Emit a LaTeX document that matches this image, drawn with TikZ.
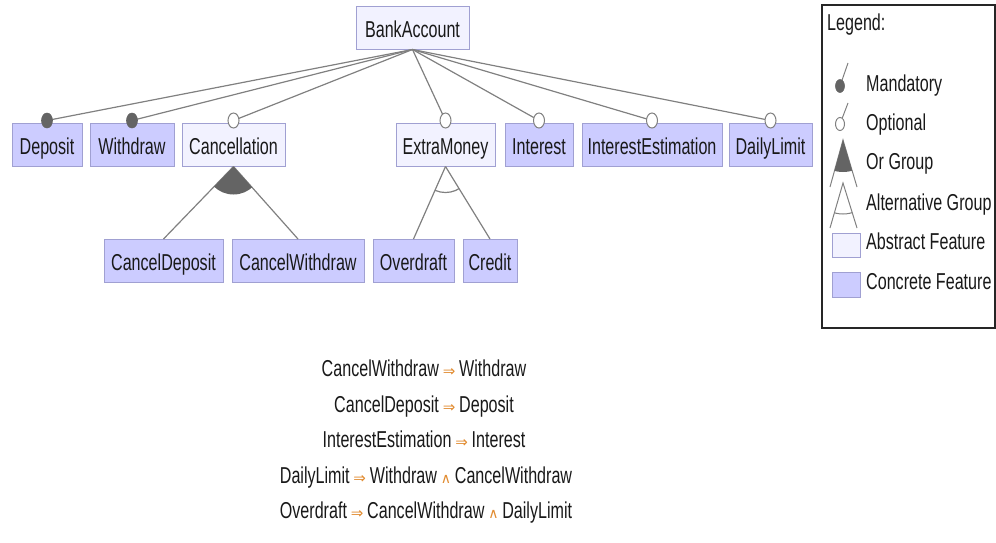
\documentclass[tikz,border=0pt]{standalone}
\usepackage{fontspec}
\setmainfont{Liberation Sans}[FakeStretch=0.7]
\newfontfamily\symfont{DejaVu Sans}
\usetikzlibrary{calc}

\definecolor{concretefill}{RGB}{204,204,255}
\definecolor{abstractfill}{RGB}{242,242,255}
\definecolor{featborder}{RGB}{160,160,210}
\definecolor{edgegray}{RGB}{128,128,128}
\definecolor{markgray}{RGB}{100,100,100}
\definecolor{opcolor}{RGB}{225,140,50}

\newcommand{\impl}{\,{\symfont\fontsize{15}{15}\selectfont\textcolor{opcolor}{⇒}}\,}
\newcommand{\conj}{\,{\symfont\fontsize{14}{14}\selectfont\textcolor{opcolor}{∧}}\,}

\begin{document}
\begin{tikzpicture}[x=1pt,y=-1pt,
  font=\fontsize{23}{27}\selectfont,
  feat/.style={draw=featborder,line width=1pt,minimum height=43pt,inner sep=0pt,
    text height=20pt,text depth=0.5pt,text=black!90},
  concrete/.style={feat,fill=concretefill},
  abstract/.style={feat,fill=abstractfill},
  edge/.style={draw=edgegray,line width=1.2pt},
  mandmark/.style={fill=markgray,draw=markgray,line width=0.6pt},
  optmark/.style={fill=white,draw=edgegray,line width=1pt},
  constraint/.style={inner sep=0pt,text=black!90,text height=16pt,text depth=4.5pt},
  legtext/.style={anchor=west,inner sep=0pt,text=black!90,text height=16pt,text depth=4.5pt}
]
\useasboundingbox (0,0) rectangle (996,542);

% feature nodes
\node[abstract,minimum width=113pt] (root) at (412.5,27.5) {BankAccount};

\node[concrete,minimum width=70pt]  (dep)  at (47,144.5)    {Deposit};
\node[concrete,minimum width=84pt]  (wd)   at (132,144.5)   {Withdraw};
\node[abstract,minimum width=103pt] (canc) at (233.5,144.5) {Cancellation};
\node[abstract,minimum width=99pt]  (xm)   at (445.5,144.5) {ExtraMoney};
\node[concrete,minimum width=68pt]  (int)  at (539,144.5)   {Interest};
\node[concrete,minimum width=140pt] (ie)   at (652,144.5)   {InterestEstimation};
\node[concrete,minimum width=83pt]  (dl)   at (770.5,144.5) {DailyLimit};

\node[concrete,minimum width=119pt] (cd) at (163.5,261) {CancelDeposit};
\node[concrete,minimum width=132pt] (cw) at (298,261)   {CancelWithdraw};
\node[concrete,minimum width=81pt]  (od) at (413.5,261) {Overdraft};
\node[concrete,minimum width=54pt]  (cr) at (490,261)   {Credit};

% edges from the root
\foreach \c in {dep,wd,canc,xm,int,ie,dl}
  \draw[edge] (root.south) -- ($(\c.north)+(0,-2)$);

% mandatory / optional markers
\foreach \c in {dep,wd}
  \filldraw[mandmark] ($(\c.north)+(0,-2)$) ellipse (5.5pt and 7.5pt);
\foreach \c in {canc,xm,int,ie,dl}
  \filldraw[optmark] ($(\c.north)+(0,-2)$) ellipse (5.5pt and 7.5pt);

% or group under Cancellation
\draw[edge] (canc.south) -- (cd.north);
\draw[edge] (canc.south) -- (cw.north);
\begin{scope}
  \clip (canc.south) -- (cd.north) -- (cw.north) -- cycle;
  \fill[markgray] (canc.south) circle (28pt);
\end{scope}

% alternative group under ExtraMoney
\draw[edge] (xm.south) -- (od.north);
\draw[edge] (xm.south) -- (cr.north);
\begin{scope}
  \clip (xm.south) -- (od.north) -- (cr.north) -- cycle;
  \draw[edgegray,line width=1.2pt] (xm.south) circle (26pt);
\end{scope}

% cross-tree constraints
\node[constraint] (k1) at (424,371) {CancelWithdraw\impl Withdraw};
\node[constraint] (k2) at (424,407) {CancelDeposit\impl Deposit};
\node[constraint] (k3) at (424,442) {InterestEstimation\impl Interest};
\node[constraint] (k4) at (426,478) {DailyLimit\impl Withdraw\conj CancelWithdraw};
\node[constraint] (k5) at (426,513) {Overdraft\impl CancelWithdraw\conj DailyLimit};

% legend
\draw[black!85,line width=1.6pt] (822,5) rectangle (995,328);
\node[legtext] (lg) at (827,25) {Legend:};

\coordinate (mtop) at (848,63);
\coordinate (mdot) at (840,86);
\draw[edgegray,line width=1pt] (mdot) -- (mtop);
\filldraw[mandmark] (mdot) ellipse (4.5pt and 6.5pt);
\node[legtext] (lm) at (866,86) {Mandatory};

\coordinate (otop) at (848,103);
\coordinate (odot) at (840,124);
\draw[edgegray,line width=1pt] (odot) -- (otop);
\filldraw[optmark] (odot) ellipse (4.5pt and 6.5pt);
\node[legtext] (lo) at (866,125) {Optional};

\coordinate (ga) at (843,140);
\coordinate (gl) at (830,187);
\coordinate (gr) at (857,187);
\draw[edgegray,line width=1pt] (gl) -- (ga) -- (gr);
\begin{scope}
  \clip (ga) -- (gl) -- (gr) -- cycle;
  \fill[markgray] (ga) circle (32pt);
\end{scope}
\node[legtext] (lor) at (866,164) {Or Group};

\coordinate (aa) at (843,183);
\coordinate (al) at (830,228);
\coordinate (ar) at (857,228);
\draw[edgegray,line width=1pt] (al) -- (aa) -- (ar);
\begin{scope}
  \clip (aa) -- (al) -- (ar) -- cycle;
  \draw[edgegray,line width=1pt] (aa) circle (31pt);
\end{scope}
\node[legtext] (lalt) at (866,205) {Alternative Group};

\node[abstract,minimum width=28pt,minimum height=24pt,text height=0pt,text depth=0pt] (la) at (846,245) {};
\node[legtext] (lab) at (866,244) {Abstract Feature};
\node[concrete,minimum width=28pt,minimum height=25pt,text height=0pt,text depth=0pt] (lc) at (846,284.5) {};
\node[legtext] (lcon) at (866,284) {Concrete Feature};
\end{tikzpicture}
\end{document}
